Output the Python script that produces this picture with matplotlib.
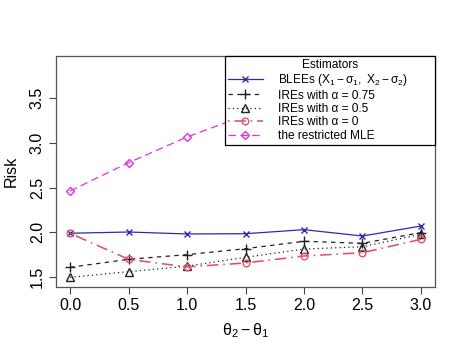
import numpy as np
import matplotlib
matplotlib.use('Agg')
import matplotlib.pyplot as plt

plt.rcParams['font.family'] = ['Liberation Sans', 'DejaVu Sans']
plt.rcParams['mathtext.fontset'] = 'custom'
plt.rcParams['mathtext.rm'] = 'Liberation Sans'
plt.rcParams['mathtext.it'] = 'Liberation Sans'
plt.rcParams['mathtext.sf'] = 'Liberation Sans'

# theta2 - theta1
delta = [0.0, 0.5, 1.0, 1.5, 2.0, 2.5, 3.0]

# risk values
blee = [1.987, 2.001, 1.979, 1.982, 2.027, 1.956, 2.068]
ire_075 = [1.605, 1.695, 1.747, 1.814, 1.897, 1.874, 1.995]
ire_05 = [1.493, 1.556, 1.618, 1.717, 1.810, 1.836, 1.975]
ire_0 = [1.987, 1.695, 1.609, 1.654, 1.732, 1.769, 1.919]
mle = [2.461, 2.778, 3.066, 3.31, 3.52, 3.70, 3.88]   # last ones hidden by the legend

xticks = [0.0, 0.5, 1.0, 1.5, 2.0, 2.5, 3.0]
yticks = [1.5, 2.0, 2.5, 3.0, 3.5]

fig = plt.figure(figsize=(4.63, 3.57), dpi=100)
ax = fig.add_axes([0.121, 0.197, 0.8185, 0.647])

lw = 0.9
ms = 4.8
ax.plot(delta, blee, '-', color='#2b2bb0', lw=lw, marker='x', ms=ms, mew=1.0,
        label=r'BLEEs $(\mathrm{X}_1-\mathrm{\sigma}_1,\ \mathrm{X}_2-\mathrm{\sigma}_2)$')
ax.plot(delta, ire_075, color='#222222', lw=lw, ls=(0, (3.5, 3.5)), marker='+', ms=6.5, mew=1.0,
        label='IREs with α = 0.75')
ax.plot(delta, ire_05, color='#222222', lw=lw, ls=(0, (1, 2.5)), marker='^', ms=5.6, mew=1.0,
        mfc='none', label='IREs with α = 0.5')
ax.plot(delta, ire_0, color='#df536b', lw=lw * 1.3, ls=(0, (1, 3, 7, 3)), marker='o', ms=ms, mew=1.0,
        mfc='none', label='IREs with α = 0')
ax.plot(delta, mle, color='#e030e0', lw=lw, ls=(0, (6, 3.5)), marker='D', ms=4.2, mew=1.0,
        mfc='none', label='the restricted MLE')

ax.set_xlim(-0.12, 3.12)
ax.set_ylim(1.388, 3.978)
ax.set_xticks(xticks)
ax.set_xticklabels(['%.1f' % t for t in xticks])
ax.set_yticks(yticks)
ax.set_yticklabels(['%.1f' % t for t in yticks], rotation=90, va='center')
ax.tick_params(labelsize=11.5, length=5, width=0.8, color='#444444', pad=3)
for s in ax.spines.values():
    s.set_color('#555555')
    s.set_linewidth(0.9)

ax.set_xlabel(r'$\mathrm{\theta}_2-\mathrm{\theta}_1$', fontsize=11.5, labelpad=6)
ax.set_ylabel('Risk', fontsize=11.5, labelpad=8)

leg = ax.legend(loc='upper left', bbox_to_anchor=(0.446, 0.0, 0.554, 1.0), mode='expand',
                borderaxespad=0, fontsize=8.6, title='Estimators', title_fontsize=8.6,
                handlelength=2.9, handletextpad=1.3, labelspacing=0.12, fancybox=False,
                framealpha=1, edgecolor='black', borderpad=0.25)
leg.get_frame().set_linewidth(0.9)

fig.savefig('out.png', dpi=100)
